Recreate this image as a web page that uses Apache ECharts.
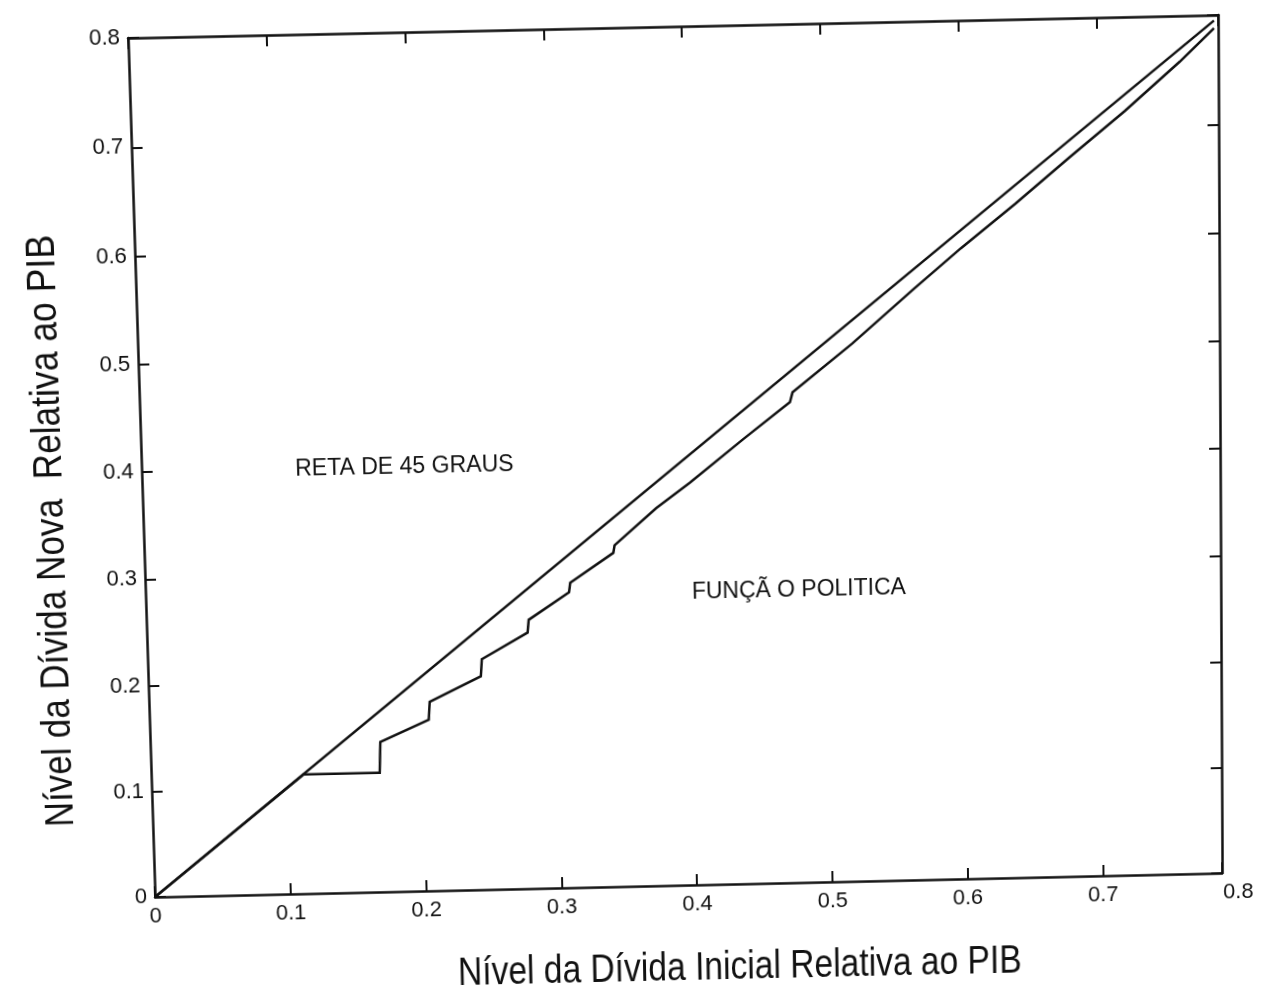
<!DOCTYPE html>
<html>
<head>
<meta charset="utf-8">
<script src="https://cdn.jsdelivr.net/npm/echarts@6/dist/echarts.min.js"></script>
<style>
  html, body { margin: 0; padding: 0; background: #fff; overflow: hidden; }
  #chart {
    position: absolute; left: 0; top: 0; width: 1261px; height: 997px;
    transform-origin: 0 0;
  }
</style>
</head>
<body>
<div id="chart"></div>
<script>
// 45-degree reference line
const diagX = [0, 0.785];
const diagY = [0, 0.795];

// Policy function: new debt level vs initial debt level
const policyX = [0, 0.112, 0.168, 0.169, 0.205, 0.206, 0.244, 0.245, 0.279, 0.280, 0.310, 0.311,
                 0.343, 0.344, 0.375, 0.400, 0.440, 0.474, 0.476, 0.520, 0.565, 0.600, 0.640,
                 0.680, 0.720, 0.760, 0.785];
const policyY = [0, 0.113, 0.113, 0.142, 0.162, 0.179, 0.202, 0.218, 0.242, 0.254, 0.279, 0.288,
                 0.315, 0.322, 0.356, 0.379, 0.419, 0.452, 0.461, 0.505, 0.554, 0.591, 0.631,
                 0.673, 0.714, 0.758, 0.788];

// Axis ranges and tick labels
const xMax = 0.788;
const yMax = 0.8;
const tickStep = 0.1;
const xTickLabels = ['0', '0.1', '0.2', '0.3', '0.4', '0.5', '0.6', '0.7', '0.8'];
const yTickLabels = ['0', '0.1', '0.2', '0.3', '0.4', '0.5', '0.6', '0.7', '0.8'];

// Text annotations
const xTitle = 'Nível da Dívida Inicial Relativa ao PIB';
const yTitle = 'Nível da Dívida Nova  Relativa ao PIB';
const noteDiag = { text: 'RETA DE 45 GRAUS', x: 0.112, y: 0.399 };
const notePolicy = { text: 'FUNÇÃ O POLITICA', x: 0.400, y: 0.276 };

const zip = (xs, ys) => xs.map((x, i) => [x, ys[i]]);
const ink = '#111';
const tickFont = 'Liberation Sans, Arial, Helvetica, sans-serif';

function tickFormatter(labels) {
  return function (v) {
    const k = Math.round(v / tickStep);
    return Math.abs(v - k * tickStep) < 1e-6 && labels[k] !== undefined ? labels[k] : '';
  };
}

// The printed page sits slightly askew: map the plot frame corners onto
// the tilted frame with a projective CSS transform.
function solve(A, b) {
  const n = b.length;
  for (let c = 0; c < n; c++) {
    let p = c;
    for (let r = c + 1; r < n; r++) if (Math.abs(A[r][c]) > Math.abs(A[p][c])) p = r;
    [A[c], A[p]] = [A[p], A[c]]; [b[c], b[p]] = [b[p], b[c]];
    for (let r = c + 1; r < n; r++) {
      const f = A[r][c] / A[c][c];
      for (let k = c; k < n; k++) A[r][k] -= f * A[c][k];
      b[r] -= f * b[c];
    }
  }
  const x = new Array(n).fill(0);
  for (let r = n - 1; r >= 0; r--) {
    let s = b[r];
    for (let k = r + 1; k < n; k++) s -= A[r][k] * x[k];
    x[r] = s / A[r][r];
  }
  return x;
}
function pageTransform(src, dst) {
  const A = [], b = [];
  for (let i = 0; i < 4; i++) {
    const [x, y] = src[i], [X, Y] = dst[i];
    A.push([x, y, 1, 0, 0, 0, -X * x, -X * y]); b.push(X);
    A.push([0, 0, 0, x, y, 1, -Y * x, -Y * y]); b.push(Y);
  }
  const h = solve(A, b);
  return 'matrix3d(' + [h[0], h[3], 0, h[6], h[1], h[4], 0, h[7], 0, 0, 1, 0, h[2], h[5], 0, 1].join(',') + ')';
}

const G = { left: 142, top: 27, right: 1220, bottom: 885 };
document.getElementById('chart').style.transform = pageTransform(
  [[G.left, G.top], [G.right, G.top], [G.left, G.bottom], [G.right, G.bottom]],
  [[128, 38], [1218, 15], [155, 897], [1222, 873]]
);

const axisLine = { show: true, onZero: false, lineStyle: { color: ink, width: 2.5 } };
const axisTick = { show: true, inside: true, length: 11, lineStyle: { color: ink, width: 2 } };
const labelStyle = { color: ink, fontSize: 22, fontFamily: tickFont };

const chart = echarts.init(document.getElementById('chart'), null, { renderer: 'canvas' });

chart.setOption({
  animation: false,
  backgroundColor: '#fff',
  grid: { left: G.left, right: 1261 - G.right, top: G.top, bottom: 997 - G.bottom, containLabel: false },
  xAxis: [
    {
      type: 'value', min: 0, max: xMax, interval: tickStep, position: 'bottom',
      axisLine, axisTick, splitLine: { show: false },
      axisLabel: Object.assign({ formatter: tickFormatter(xTickLabels), margin: 9 }, labelStyle)
    },
    {
      type: 'value', min: 0, max: xMax, interval: tickStep, position: 'top',
      axisLine, axisTick, splitLine: { show: false }, axisLabel: { show: false }
    }
  ],
  yAxis: [
    {
      type: 'value', min: 0, max: yMax, interval: tickStep, position: 'left',
      axisLine, axisTick, splitLine: { show: false },
      axisLabel: Object.assign({ formatter: tickFormatter(yTickLabels), margin: 8 }, labelStyle)
    },
    {
      type: 'value', min: 0, max: yMax, interval: tickStep, position: 'right',
      axisLine, axisTick, splitLine: { show: false }, axisLabel: { show: false }
    }
  ],
  series: [
    {
      name: 'Reta de 45 graus', type: 'line', data: zip(diagX, diagY),
      showSymbol: false, symbol: 'none', silent: true,
      lineStyle: { color: ink, width: 2.5 }
    },
    {
      name: 'Função política', type: 'line', data: zip(policyX, policyY),
      showSymbol: false, symbol: 'none', silent: true,
      lineStyle: { color: ink, width: 2.5, join: 'miter' }
    }
  ]
});

// Place texts through the chart's own scales
const px = (x) => chart.convertToPixel({ xAxisIndex: 0 }, x);
const py = (y) => chart.convertToPixel({ yAxisIndex: 0 }, y);
const noteFont = '23px Liberation Sans, Arial, Helvetica, sans-serif';
const titleFont = '40px Liberation Sans, Arial, Helvetica, sans-serif';

chart.setOption({
  graphic: [
    {
      type: 'text', x: px(0.8), y: py(0) + 9, silent: true,
      style: { text: xTickLabels[8], font: '22px ' + tickFont, fill: ink, align: 'center', verticalAlign: 'top' }
    },
    {
      type: 'text', x: px(noteDiag.x), y: py(noteDiag.y), silent: true,
      style: { text: noteDiag.text, font: noteFont, fill: ink, align: 'left', verticalAlign: 'middle' }
    },
    {
      type: 'text', x: px(notePolicy.x), y: py(notePolicy.y), silent: true,
      style: { text: notePolicy.text, font: noteFont, fill: ink, align: 'left', verticalAlign: 'middle' }
    },
    {
      type: 'text', x: 731, y: 971, scaleX: 0.85, silent: true,
      style: { text: xTitle, font: titleFont, fill: ink, align: 'center', verticalAlign: 'middle' }
    },
    {
      type: 'text', x: 51, y: 515, scaleX: 0.88, rotation: Math.PI / 2, silent: true,
      style: { text: yTitle, font: titleFont, fill: ink, align: 'center', verticalAlign: 'middle' }
    }
  ]
});
</script>
</body>
</html>
